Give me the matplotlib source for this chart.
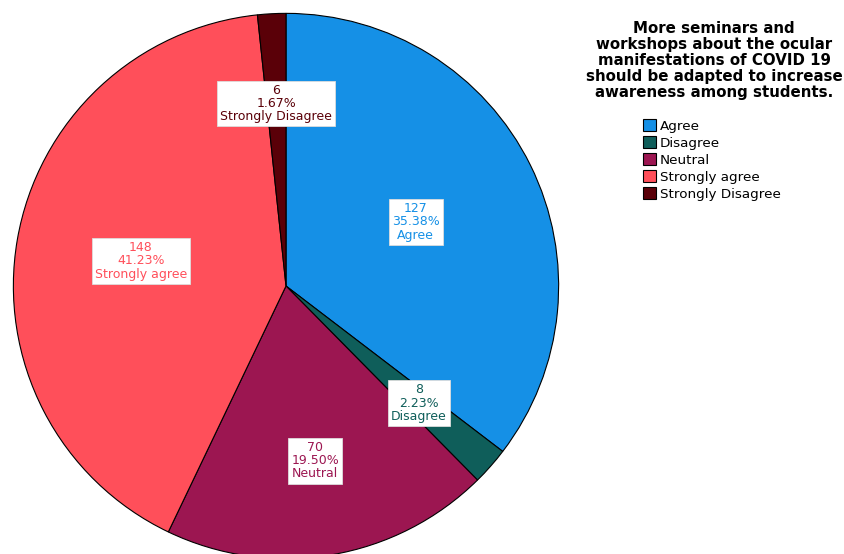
import numpy as np
import matplotlib
matplotlib.use('Agg')
import matplotlib.pyplot as plt

# data
categories = ['Agree', 'Disagree', 'Neutral', 'Strongly agree', 'Strongly Disagree']
counts = [127, 8, 70, 148, 6]
percents = ['35.38%', '2.23%', '19.50%', '41.23%', '1.67%']
colors = ['#1590E6', '#0F5E5A', '#9C1651', '#FF4F5A', '#5A0008']
label_dist = [0.53, 0.65, 0.65, 0.54, 0.67]

title = ('More seminars and\nworkshops about the ocular\nmanifestations of COVID 19\n'
         'should be adapted to increase\nawareness among students.')

plt.rcParams['font.family'] = ['DejaVu Sans']

fig = plt.figure(figsize=(8.44, 5.54), dpi=100)
ax = fig.add_axes([12 / 844, -6 / 554, 548 / 844, 548 / 554])

wedges, _ = ax.pie(counts, colors=colors, startangle=90, counterclock=False,
                   radius=1, wedgeprops=dict(edgecolor='black', linewidth=0.8))
ax.set_xlim(-1.005, 1.005)
ax.set_ylim(-1.005, 1.005)
ax.set_aspect('equal')
ax.axis('off')

# labels in white boxes
for w, n, p, cat, col, d in zip(wedges, counts, percents, categories, colors, label_dist):
    ang = np.deg2rad((w.theta1 + w.theta2) / 2)
    ax.text(d * np.cos(ang), d * np.sin(ang), f'{n}\n{p}\n{cat}',
            ha='center', va='center', fontsize=9, color=col, linespacing=1.02,
            bbox=dict(boxstyle='square,pad=0.25', fc='white', ec='#dddddd', lw=0.6))

fig.text(714 / 844, 1 - 21 / 554, title, ha='center', va='top', fontsize=10.8,
         fontweight='bold', linespacing=1.08, multialignment='center')

fig.legend(wedges, categories, loc='upper left', bbox_to_anchor=(638 / 844, 1 - 114 / 554),
           frameon=False, fontsize=9.7, handlelength=0.9, handleheight=0.9,
           handletextpad=0.3, labelspacing=0.28, borderaxespad=0)

fig.savefig('out.png', dpi=100)
